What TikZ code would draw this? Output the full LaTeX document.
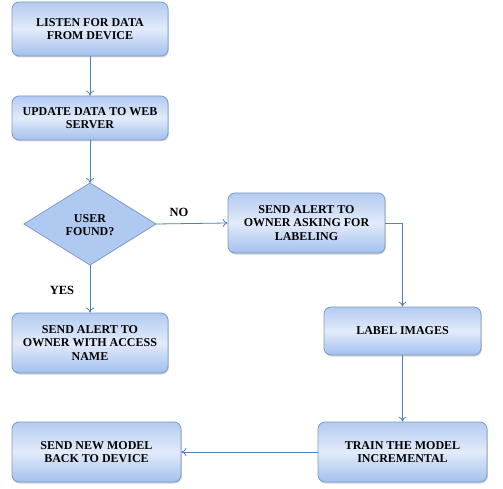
\documentclass[tikz,border=0pt]{standalone}
\usepackage{fontspec}
\setmainfont{Liberation Serif}
\usetikzlibrary{shadows,arrows.meta}
\definecolor{boxtop}{HTML}{B3CBF1}
\definecolor{boxmid}{HTML}{E2EBFA}
\definecolor{boxbot}{HTML}{A2C0EE}
\definecolor{boxline}{HTML}{7A9CC8}
\definecolor{arrowc}{HTML}{4F81BD}
\tikzset{
  fbox/.style={draw=boxline, line width=0.8pt, rounded corners=7pt,
    top color=boxtop, bottom color=boxbot, middle color=boxmid,
    drop shadow={shadow xshift=0.8pt, shadow yshift=-1.5pt, opacity=0.35},
    align=center, font=\bfseries\fontsize{12}{13.5}\selectfont, inner sep=0pt},
  fdia/.style={draw=boxline, line width=0.8pt, fill=boxtop!85!boxbot},
  conn/.style={draw=arrowc, line width=0.8pt, -{To[length=5pt,width=8pt]}},
  lbl/.style={font=\bfseries\fontsize{12.5}{14}\selectfont}
}
\begin{document}
\begin{tikzpicture}[x=1pt,y=-1pt]
\useasboundingbox (0,0) rectangle (503,489);
\node[fbox, minimum width=156pt, minimum height=54pt] (listen) at (90,29) {LISTEN FOR DATA\\FROM DEVICE};
\node[fbox, minimum width=156pt, minimum height=44pt] (update) at (90,118) {UPDATE DATA TO WEB\\SERVER};
\draw[fdia] (90,183) coordinate (dt) -- (156,224) coordinate (dr) -- (90,265) coordinate (db) -- (24,224) coordinate (dl) -- cycle;
\node[font=\bfseries\fontsize{12}{13.5}\selectfont, align=center] (dtext) at (90,225) {USER\\FOUND?};
\node[fbox, minimum width=157pt, minimum height=60pt] (ask) at (306.5,223) {SEND ALERT TO\\OWNER ASKING FOR\\LABELING};
\node[fbox, minimum width=157pt, minimum height=48pt] (labelimg) at (402.5,331) {LABEL IMAGES};
\node[fbox, minimum width=156pt, minimum height=60pt] (access) at (90,343) {SEND ALERT TO\\OWNER WITH ACCESS\\NAME};
\node[fbox, minimum width=169pt, minimum height=60pt] (sendnew) at (96.5,452) {SEND NEW MODEL\\BACK TO DEVICE};
\node[fbox, minimum width=169pt, minimum height=60pt] (train) at (402.5,452) {TRAIN THE MODEL\\INCREMENTAL};
\node[lbl] (no) at (179,212) {NO};
\node[lbl] (yes) at (62,290) {YES};
\draw[conn] (listen.south) -- (update.north);
\draw[conn] (update.south) -- (dt);
\draw[conn] (dr) -- (ask.west);
\draw[conn] (db) -- (access.north);
\draw[conn] (ask.east) -| (labelimg.north);
\draw[conn] (labelimg.south) -- (train.north);
\draw[conn] (train.west) -- (sendnew.east);
\end{tikzpicture}
\end{document}
